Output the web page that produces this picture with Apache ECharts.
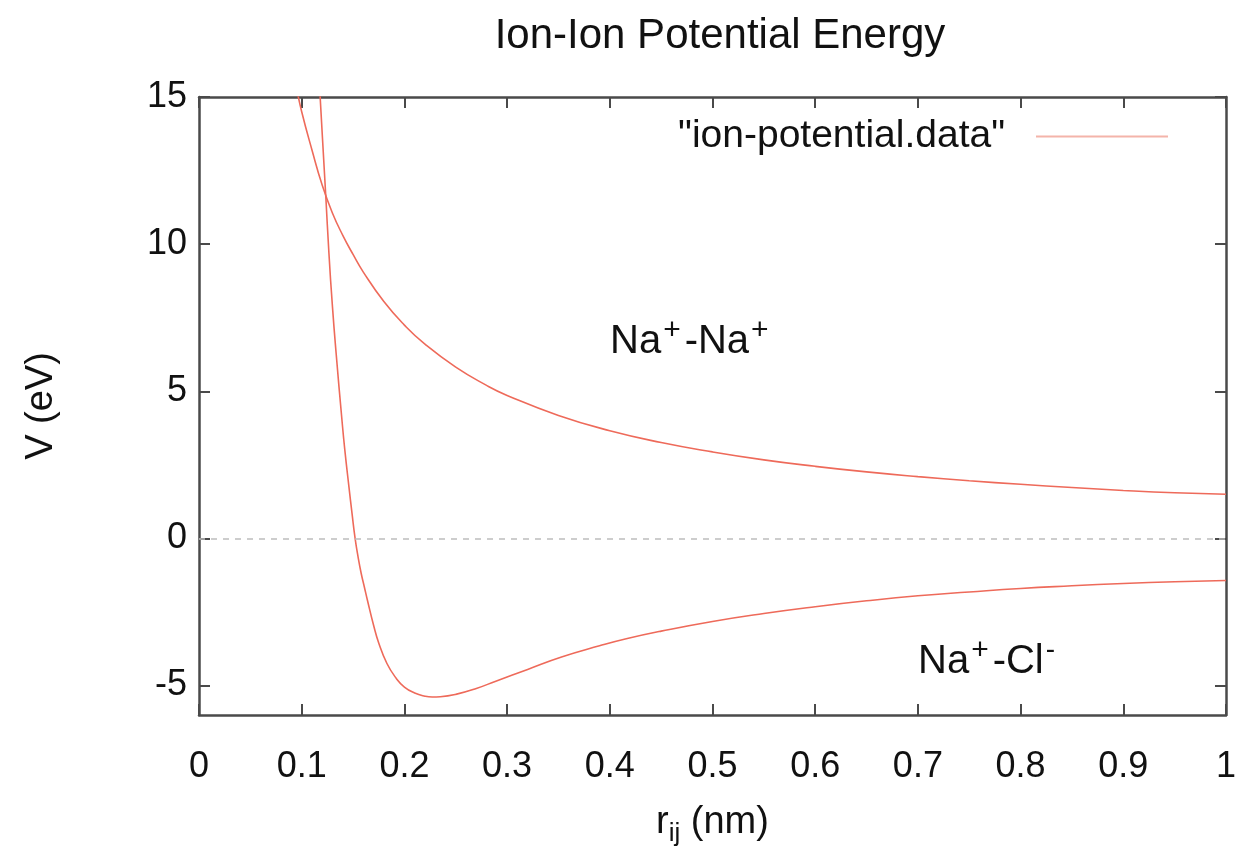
<!DOCTYPE html>
<html>
<head>
<meta charset="utf-8">
<title>Ion-Ion Potential Energy</title>
<script src="https://cdn.jsdelivr.net/npm/echarts@6/dist/echarts.min.js"></script>
<style>
  html, body { margin: 0; padding: 0; background: #fff; }
  #main { width: 1239px; height: 857px; }
</style>
</head>
<body>
<div id="main"></div>
<script type="text/javascript">
// values (r in nm, V in eV)
var naNaR = [0.095, 0.10, 0.11, 0.12, 0.13, 0.14, 0.15, 0.16, 0.18, 0.20, 0.22, 0.25, 0.28, 0.30,
             0.35, 0.40, 0.45, 0.50, 0.55, 0.60, 0.65, 0.70, 0.75, 0.80, 0.85, 0.90, 0.95, 1.00];
var naNaV = [15.3, 14.5, 13.2, 12.0, 11.05, 10.3, 9.65, 9.05, 8.05, 7.25, 6.6, 5.82, 5.2, 4.86,
             4.18, 3.66, 3.26, 2.94, 2.67, 2.45, 2.26, 2.1, 1.96, 1.84, 1.73, 1.63, 1.55, 1.5];

var naClR = [0.114, 0.117, 0.1235, 0.1265, 0.13, 0.1335, 0.139, 0.142, 0.146, 0.149, 0.152, 0.155,
             0.158, 0.161, 0.164, 0.17, 0.175, 0.183, 0.192, 0.20, 0.21, 0.22, 0.227, 0.235, 0.25,
             0.27, 0.289, 0.32, 0.353, 0.39, 0.416, 0.45, 0.50, 0.55, 0.60, 0.65, 0.70, 0.75, 0.80,
             0.85, 0.90, 0.95, 1.00];
var naClV = [17.6, 15.6, 11.6, 9.7, 7.85, 6.3, 4.1, 3.0, 1.75, 0.85, 0, -0.65,
             -1.2, -1.65, -2.1, -2.95, -3.55, -4.25, -4.75, -5.05, -5.25, -5.36, -5.39, -5.38, -5.3,
             -5.1, -4.85, -4.45, -4.03, -3.65, -3.41, -3.15, -2.82, -2.55, -2.32, -2.12, -1.95, -1.82, -1.7,
             -1.61, -1.53, -1.47, -1.43];

var yTicks = [-5, 0, 5, 10, 15];

var seriesName = '"ion-potential.data"';
var lineColor = '#ee6a5a';
var frameColor = '#4a4a4a';
var font = 'Liberation Sans, Arial, sans-serif';

function pairs(xs, ys) {
  var out = [];
  for (var i = 0; i < xs.length; i++) out.push([xs[i], ys[i]]);
  return out;
}

var myChart = echarts.init(document.getElementById('main'));

function xAxisCfg(pos) {
  var bottom = pos === 'bottom';
  return {
    type: 'value',
    position: pos,
    min: 0,
    max: 1,
    interval: 0.1,
    name: bottom ? '{n|r}{s|ij}{n| (nm)}' : '',
    nameLocation: 'middle',
    nameGap: 84,
    nameTextStyle: {
      rich: {
        n: { fontSize: 38, color: '#111', fontFamily: font },
        s: { fontSize: 26, color: '#111', fontFamily: font, padding: [22, 0, 0, 0] }
      }
    },
    axisLine: { show: true, onZero: false, lineStyle: { color: frameColor, width: 2.5 } },
    axisTick: { show: true, inside: true, length: 11, lineStyle: { color: frameColor, width: 2 } },
    axisLabel: {
      show: bottom,
      margin: 34,
      fontSize: 36,
      color: '#111',
      fontFamily: font,
      formatter: function (v) { return String(Math.round(v * 10) / 10); }
    },
    splitLine: { show: false }
  };
}

function yAxisCfg(pos) {
  var left = pos === 'left';
  return {
    type: 'value',
    position: pos,
    min: -6,
    max: 15,
    name: left ? 'V (eV)' : '',
    nameLocation: 'middle',
    nameRotate: 90,
    nameGap: 138,
    nameTextStyle: { fontSize: 38, color: '#111', fontFamily: font },
    axisLine: { show: true, onZero: false, lineStyle: { color: frameColor, width: 2.5 } },
    axisTick: { show: true, inside: true, length: 11, customValues: yTicks, lineStyle: { color: frameColor, width: 2 } },
    axisLabel: {
      show: left,
      customValues: yTicks,
      margin: 12,
      fontSize: 36,
      color: '#111',
      fontFamily: font
    },
    splitLine: { show: false }
  };
}

var richLabel = {
  n: { fontSize: 40, fill: '#111', fontFamily: font, lineHeight: 48, verticalAlign: 'bottom' },
  p: { fontSize: 30, fill: '#111', fontFamily: font, lineHeight: 48, verticalAlign: 'bottom', padding: [0, 4, 16, 2] },
  m: { fontSize: 28, fill: '#111', fontFamily: font, lineHeight: 48, verticalAlign: 'bottom', padding: [0, 2, 18, 2] }
};

var option = {
  backgroundColor: '#fff',
  animation: false,
  title: {
    text: 'Ion-Ion Potential Energy',
    left: 715,
    textAlign: 'center',
    top: 10,
    textStyle: { fontSize: 42, fontWeight: 'normal', color: '#111', fontFamily: font }
  },
  legend: {
    data: [seriesName],
    right: 66,
    top: 112,
    align: 'right',
    itemWidth: 132,
    itemHeight: 2,
    itemGap: 0,
    icon: 'rect',
    textStyle: { fontSize: 39, color: '#111', fontFamily: font, padding: [0, 26, 0, 0] },
    itemStyle: { color: '#f4b4aa' }
  },
  grid: { left: 199, right: 12, top: 97, bottom: 142 },
  xAxis: [xAxisCfg('bottom'), xAxisCfg('top')],
  yAxis: [yAxisCfg('left'), yAxisCfg('right')],
  graphic: [
    {
      type: 'text',
      left: 610,
      top: 316,
      style: { text: '{n|Na}{p|+}{n|-Na}{p|+}', rich: richLabel }
    },
    {
      type: 'text',
      left: 918,
      top: 636,
      style: { text: '{n|Na}{p|+}{n|-Cl}{m|-}', rich: richLabel }
    }
  ],
  series: [
    {
      name: seriesName,
      type: 'line',
      data: pairs(naNaR, naNaV),
      showSymbol: false,
      smooth: true,
      clip: true,
      lineStyle: { color: lineColor, width: 1.6 },
      itemStyle: { color: lineColor },
      markLine: {
        silent: true,
        symbol: 'none',
        label: { show: false },
        lineStyle: { color: '#bdbdbd', type: [6, 6], width: 1.5 },
        data: [{ yAxis: 0 }]
      }
    },
    {
      name: seriesName,
      type: 'line',
      data: pairs(naClR, naClV),
      showSymbol: false,
      smooth: true,
      clip: true,
      lineStyle: { color: lineColor, width: 1.6 },
      itemStyle: { color: lineColor }
    }
  ]
};
myChart.setOption(option);
</script>
</body>
</html>
